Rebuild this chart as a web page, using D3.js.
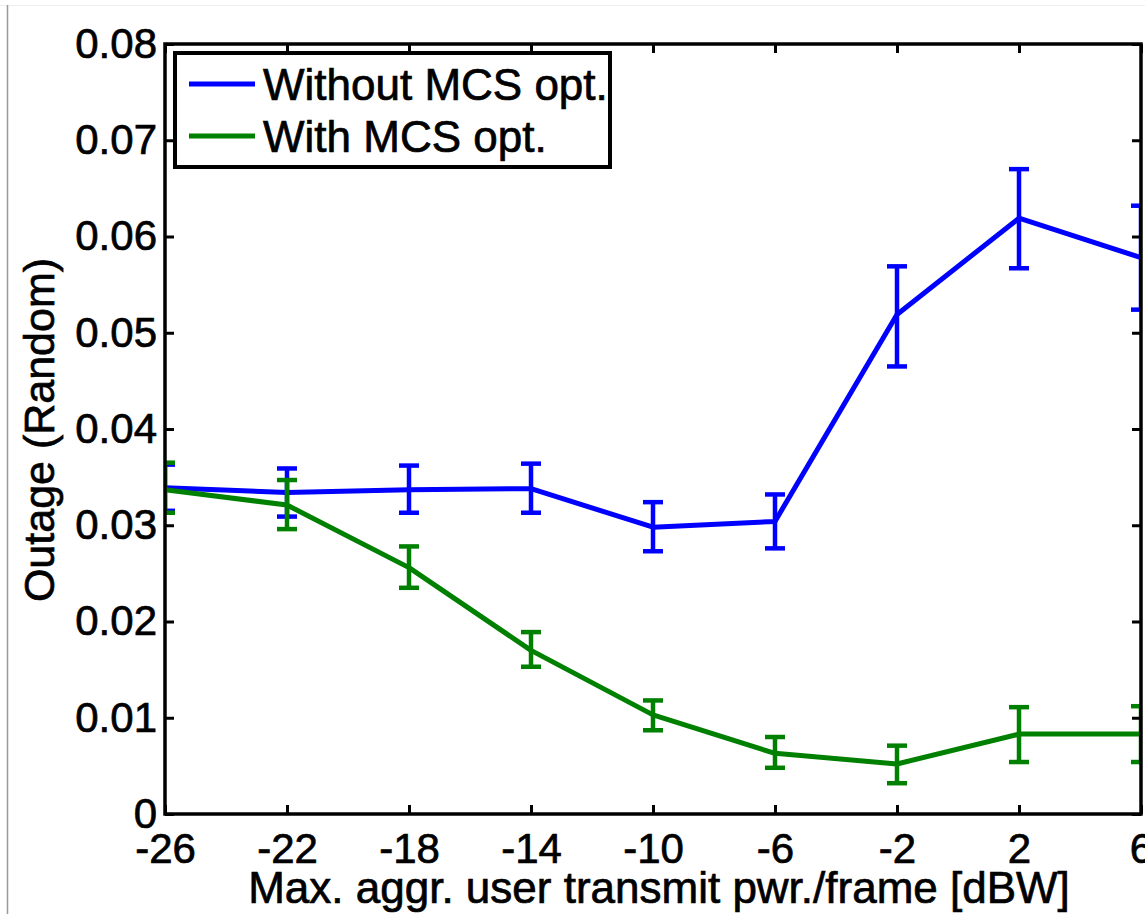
<!DOCTYPE html>
<html>
<head>
<meta charset="utf-8">
<script src="https://cdn.jsdelivr.net/npm/d3@7"></script>
<style>
  body { margin: 0; background: #fff; }
  svg { display: block; font-family: "Liberation Sans", Arial, Helvetica, sans-serif; }
  text { fill: #000; stroke: #000; stroke-width: 0.7px; }
  .tick text { font-size: 42px; }
</style>
</head>
<body>
<svg class="chart" width="1145" height="914"></svg>
<script>
var xValues = [-26, -22, -18, -14, -10, -6, -2, 2, 6];
var xTicks = [-26, -22, -18, -14, -10, -6, -2, 2, 6];
var yTicks = [0, 0.01, 0.02, 0.03, 0.04, 0.05, 0.06, 0.07, 0.08];

var withoutMean = [0.0339, 0.0334, 0.0337, 0.0338, 0.0298, 0.0304, 0.0519, 0.0619, 0.0578];
var withoutLow  = [0.0315, 0.0309, 0.0313, 0.0313, 0.0273, 0.0276, 0.0465, 0.0567, 0.0524];
var withoutHigh = [0.0363, 0.0359, 0.0362, 0.0364, 0.0324, 0.0332, 0.0569, 0.0670, 0.0632];

var withMean = [0.0337, 0.0321, 0.0256, 0.0170, 0.0103, 0.0063, 0.0052, 0.0083, 0.0083];
var withLow  = [0.0313, 0.0296, 0.0235, 0.0153, 0.0087, 0.0048, 0.0032, 0.0054, 0.0054];
var withHigh = [0.0365, 0.0347, 0.0278, 0.0189, 0.0118, 0.0080, 0.0071, 0.0111, 0.0112];

var seriesNames = ["Without MCS opt.", "With MCS opt."];
var seriesColors = ["#0000ff", "#008000"];

(function() {
  var svg = d3.select(".chart");
  var left = 165, right = 1141, top = 44, bottom = 814;

  var x = d3.scaleLinear().domain([-26, 6]).range([left, right]);
  var y = d3.scaleLinear().domain([0, 0.08]).range([bottom, top]);

  // faint page border seen in the picture
  svg.append("line").attr("x1", 0).attr("x2", 1145).attr("y1", 5.5).attr("y2", 5.5)
    .attr("stroke", "#eee").attr("stroke-width", 1);
  svg.append("line").attr("x1", 7.5).attr("x2", 7.5).attr("y1", 5).attr("y2", 914)
    .attr("stroke", "#999").attr("stroke-width", 1.5);

  svg.append("clipPath").attr("id", "plotclip")
    .append("rect").attr("x", left).attr("y", top)
    .attr("width", right - left).attr("height", bottom - top);

  var series = [
    { mean: withoutMean, low: withoutLow, high: withoutHigh },
    { mean: withMean, low: withLow, high: withHigh }
  ];

  var plot = svg.append("g").attr("clip-path", "url(#plotclip)");
  var line = d3.line()
    .x(function(d) { return x(d[0]); })
    .y(function(d) { return y(d[1]); });

  series.forEach(function(s, i) {
    var color = seriesColors[i];
    var pts = xValues.map(function(v, j) { return [v, s.mean[j]]; });
    plot.append("path")
      .attr("d", line(pts))
      .attr("fill", "none")
      .attr("stroke", color)
      .attr("stroke-width", 5)
      .attr("stroke-linejoin", "round");

    var eb = plot.append("g").attr("stroke", color).attr("stroke-width", 4.5);
    xValues.forEach(function(v, j) {
      var cx = x(v);
      eb.append("line").attr("x1", cx).attr("x2", cx)
        .attr("y1", y(s.low[j])).attr("y2", y(s.high[j]));
      eb.append("line").attr("x1", cx - 10).attr("x2", cx + 10)
        .attr("y1", y(s.low[j])).attr("y2", y(s.low[j]));
      eb.append("line").attr("x1", cx - 10).attr("x2", cx + 10)
        .attr("y1", y(s.high[j])).attr("y2", y(s.high[j]));
    });
  });

  // axes with inward ticks, on all four sides
  var fmtX = function(d) { return String(d); };
  var fmtY = function(d) { return d === 0 ? "0" : d3.format(".2f")(d); };

  var xAxis = svg.append("g")
    .attr("transform", "translate(0," + bottom + ")")
    .call(d3.axisBottom(x).tickValues(xTicks).tickFormat(fmtX).tickSize(-9).tickPadding(19));
  svg.append("g")
    .attr("transform", "translate(0," + top + ")")
    .call(d3.axisTop(x).tickValues(xTicks).tickFormat("").tickSize(-9));
  svg.append("g")
    .attr("transform", "translate(" + left + ",0)")
    .call(d3.axisLeft(y).tickValues(yTicks).tickFormat(fmtY).tickSize(-9).tickPadding(8));
  svg.append("g")
    .attr("transform", "translate(" + right + ",0)")
    .call(d3.axisRight(y).tickValues(yTicks).tickFormat("").tickSize(-9));

  svg.selectAll(".domain").remove();
  svg.selectAll(".tick line").attr("stroke", "#000").attr("stroke-width", 3);
  svg.selectAll(".tick text").attr("fill", "#000").style("font-family", "\"Liberation Sans\", Arial, sans-serif");
  xAxis.selectAll(".tick text").attr("dy", "0.71em");

  svg.append("rect")
    .attr("x", left).attr("y", top)
    .attr("width", right - left).attr("height", bottom - top)
    .attr("fill", "none").attr("stroke", "#000").attr("stroke-width", 3.5);

  // axis labels
  svg.append("text")
    .attr("x", 659).attr("y", 903)
    .attr("text-anchor", "middle")
    .style("font-size", "44px")
    .text("Max. aggr. user transmit pwr./frame [dBW]");

  svg.append("text")
    .attr("transform", "translate(54,430) rotate(-90)")
    .attr("text-anchor", "middle")
    .style("font-size", "43px")
    .text("Outage (Random)");

  // legend
  var legend = svg.append("g");
  legend.append("rect")
    .attr("x", 175).attr("y", 53).attr("width", 435).attr("height", 114)
    .attr("fill", "#fff").attr("stroke", "#000").attr("stroke-width", 4);
  seriesNames.forEach(function(name, i) {
    var ly = 84 + i * 52;
    legend.append("line")
      .attr("x1", 189).attr("x2", 255).attr("y1", ly).attr("y2", ly)
      .attr("stroke", seriesColors[i]).attr("stroke-width", 5);
    legend.append("text")
      .attr("x", 263).attr("y", ly + 16)
      .style("font-size", "44px")
      .text(name);
  });
})();
</script>
</body>
</html>
